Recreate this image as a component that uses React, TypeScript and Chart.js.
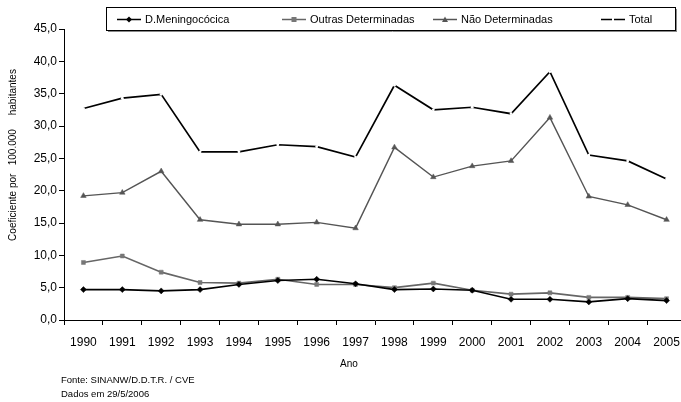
import { useEffect, useRef } from "react";
import { Chart, registerables } from "chart.js";

Chart.register(...registerables);

const years = ["1990", "1991", "1992", "1993", "1994", "1995", "1996", "1997", "1998", "1999", "2000", "2001", "2002", "2003", "2004", "2005"];
const meningococica = [4.7, 4.7, 4.5, 4.7, 5.5, 6.1, 6.3, 5.6, 4.7, 4.8, 4.6, 3.2, 3.2, 2.8, 3.3, 3.0];
const outrasDeterminadas = [8.9, 9.9, 7.4, 5.8, 5.7, 6.3, 5.5, 5.5, 5.0, 5.7, 4.6, 4.0, 4.2, 3.5, 3.5, 3.3];
const naoDeterminadas = [19.2, 19.7, 23.0, 15.5, 14.8, 14.8, 15.1, 14.2, 26.7, 22.1, 23.8, 24.6, 31.3, 19.1, 17.8, 15.5];
const total = [32.7, 34.3, 34.9, 26.0, 26.0, 27.1, 26.8, 25.2, 36.3, 32.5, 32.9, 31.9, 38.4, 25.5, 24.6, 21.8];
const seriesNames = ["D.Meningocócica", "Outras Determinadas", "Não Determinadas", "Total"];
const yMin = 0;
const yMax = 45;
const yStep = 5;
const yTitle = "Coeficiente por   100.000     habitantes";
const xTitle = "Ano";
const footnotes = ["Fonte: SINANW/D.D.T.R. / CVE", "Dados em 29/5/2006"];

const FONT = "'Liberation Sans', Arial, sans-serif";

type Style = { color: string; marker: string; mcolor: string };
const styles: Style[] = [
  { color: "#000000", marker: "diamond", mcolor: "#000000" },
  { color: "#666666", marker: "square", mcolor: "#777777" },
  { color: "#555555", marker: "triangle", mcolor: "#555555" },
  { color: "#000000", marker: "none", mcolor: "#000000" },
];

function drawMarker(ctx: CanvasRenderingContext2D, kind: string, x: number, y: number, color: string) {
  ctx.fillStyle = color;
  ctx.beginPath();
  if (kind === "diamond") {
    ctx.moveTo(x, y - 3);
    ctx.lineTo(x + 3, y);
    ctx.lineTo(x, y + 3);
    ctx.lineTo(x - 3, y);
    ctx.closePath();
    ctx.fill();
  } else if (kind === "square") {
    ctx.fillRect(x - 2.5, y - 2.5, 5, 5);
  } else if (kind === "triangle") {
    ctx.moveTo(x, y - 3);
    ctx.lineTo(x + 3, y + 2.5);
    ctx.lineTo(x - 3, y + 2.5);
    ctx.closePath();
    ctx.fill();
  }
}

const extrasPlugin = {
  id: "extras",
  afterDraw(chart: any) {
    const ctx: CanvasRenderingContext2D = chart.ctx;
    ctx.save();
    // legend box
    ctx.strokeStyle = "#000";
    ctx.lineWidth = 1;
    ctx.strokeRect(106.5, 7.5, 569, 23);
    ctx.beginPath();
    ctx.moveTo(108, 31.5);
    ctx.lineTo(677, 31.5);
    ctx.moveTo(676.5, 9);
    ctx.lineTo(676.5, 32);
    ctx.strokeStyle = "#888";
    ctx.stroke();
    const itemX = [117, 282, 433, 601];
    const ly = 19.5;
    ctx.font = `11px ${FONT}`;
    ctx.textBaseline = "middle";
    ctx.textAlign = "left";
    seriesNames.forEach((name, i) => {
      const st = styles[i];
      const x0 = itemX[i];
      ctx.strokeStyle = st.color;
      ctx.lineWidth = 1.5;
      ctx.beginPath();
      if (st.marker === "none") {
        ctx.moveTo(x0, ly);
        ctx.lineTo(x0 + 11, ly);
        ctx.moveTo(x0 + 13, ly);
        ctx.lineTo(x0 + 24, ly);
      } else {
        ctx.moveTo(x0, ly);
        ctx.lineTo(x0 + 24, ly);
      }
      ctx.stroke();
      drawMarker(ctx, st.marker, x0 + 12, ly, st.mcolor);
      ctx.fillStyle = "#000";
      ctx.fillText(name, x0 + 28, ly);
    });
    // y title
    ctx.save();
    ctx.translate(13, 155);
    ctx.rotate(-Math.PI / 2);
    ctx.font = `10px ${FONT}`;
    ctx.textAlign = "center";
    ctx.textBaseline = "middle";
    ctx.fillStyle = "#000";
    ctx.fillText(yTitle, 0, 0);
    ctx.restore();
    // x title
    ctx.font = `10px ${FONT}`;
    ctx.textAlign = "center";
    ctx.textBaseline = "middle";
    ctx.fillStyle = "#000";
    ctx.fillText(xTitle, 349, 364);
    // footnotes
    ctx.textAlign = "left";
    ctx.font = `9.5px ${FONT}`;
    footnotes.forEach((t, i) => ctx.fillText(t, 61, 380.5 + i * 13.5));
    ctx.restore();
  },
};

export default function App() {
  const ref = useRef<HTMLCanvasElement | null>(null);
  useEffect(() => {
    if (!ref.current) return;
    const tickFont = { family: FONT, size: 12 };
    const chart = new Chart(ref.current, {
      type: "line",
      data: {
        labels: years,
        datasets: [
          {
            label: seriesNames[0],
            data: meningococica,
            borderColor: styles[0].color,
            borderWidth: 1.6,
            pointStyle: "rectRot",
            pointRadius: 3,
            pointBackgroundColor: styles[0].mcolor,
            pointBorderColor: styles[0].mcolor,
            pointBorderWidth: 0.5,
          },
          {
            label: seriesNames[1],
            data: outrasDeterminadas,
            borderColor: styles[1].color,
            borderWidth: 1.6,
            pointStyle: "rect",
            pointRadius: 2.8,
            pointBackgroundColor: styles[1].mcolor,
            pointBorderColor: styles[1].mcolor,
            pointBorderWidth: 0.5,
          },
          {
            label: seriesNames[2],
            data: naoDeterminadas,
            borderColor: styles[2].color,
            borderWidth: 1.4,
            pointStyle: "triangle",
            pointRadius: 3.2,
            pointBackgroundColor: styles[2].mcolor,
            pointBorderColor: styles[2].mcolor,
            pointBorderWidth: 0.5,
          },
          {
            label: seriesNames[3],
            data: total,
            borderColor: styles[3].color,
            borderWidth: 1.7,
            pointStyle: "circle",
            pointRadius: 1.4,
            pointBackgroundColor: "#ffffff",
            pointBorderColor: "#ffffff",
            pointBorderWidth: 0,
          },
        ],
      },
      options: {
        animation: false,
        responsive: false,
        maintainAspectRatio: false,
        devicePixelRatio: 1,
        layout: { padding: { top: 29, right: 14, left: 0, bottom: 0 } },
        plugins: { legend: { display: false }, tooltip: { enabled: false } },
        elements: { line: { tension: 0 } },
        scales: {
          x: {
            type: "category",
            offset: true,
            grid: { display: true, drawOnChartArea: false, offset: true, tickLength: 5, color: "#000" },
            border: { display: true, color: "#000", width: 1 },
            ticks: { font: tickFont, color: "#000", padding: 10, maxRotation: 0, autoSkip: false },
            afterFit: (s: any) => {
              s.height = 82;
            },
          },
          y: {
            min: yMin,
            max: yMax,
            grid: { display: true, drawOnChartArea: false, tickLength: 5, color: "#000" },
            border: { display: true, color: "#000", width: 1 },
            ticks: {
              stepSize: yStep,
              font: tickFont,
              color: "#000",
              padding: 2,
              callback: (v: any) => Number(v).toFixed(1).replace(".", ","),
            },
            afterFit: (s: any) => {
              s.width = 64;
            },
          },
        },
      },
      plugins: [extrasPlugin],
    });
    return () => chart.destroy();
  }, []);
  return (
    <div style={{ position: "fixed", left: 0, top: 0, width: 681, height: 402, overflow: "hidden", background: "#fff" }}>
      <canvas ref={ref} width={700} height={402} style={{ width: 700, height: 402, display: "block" }} />
    </div>
  );
}
